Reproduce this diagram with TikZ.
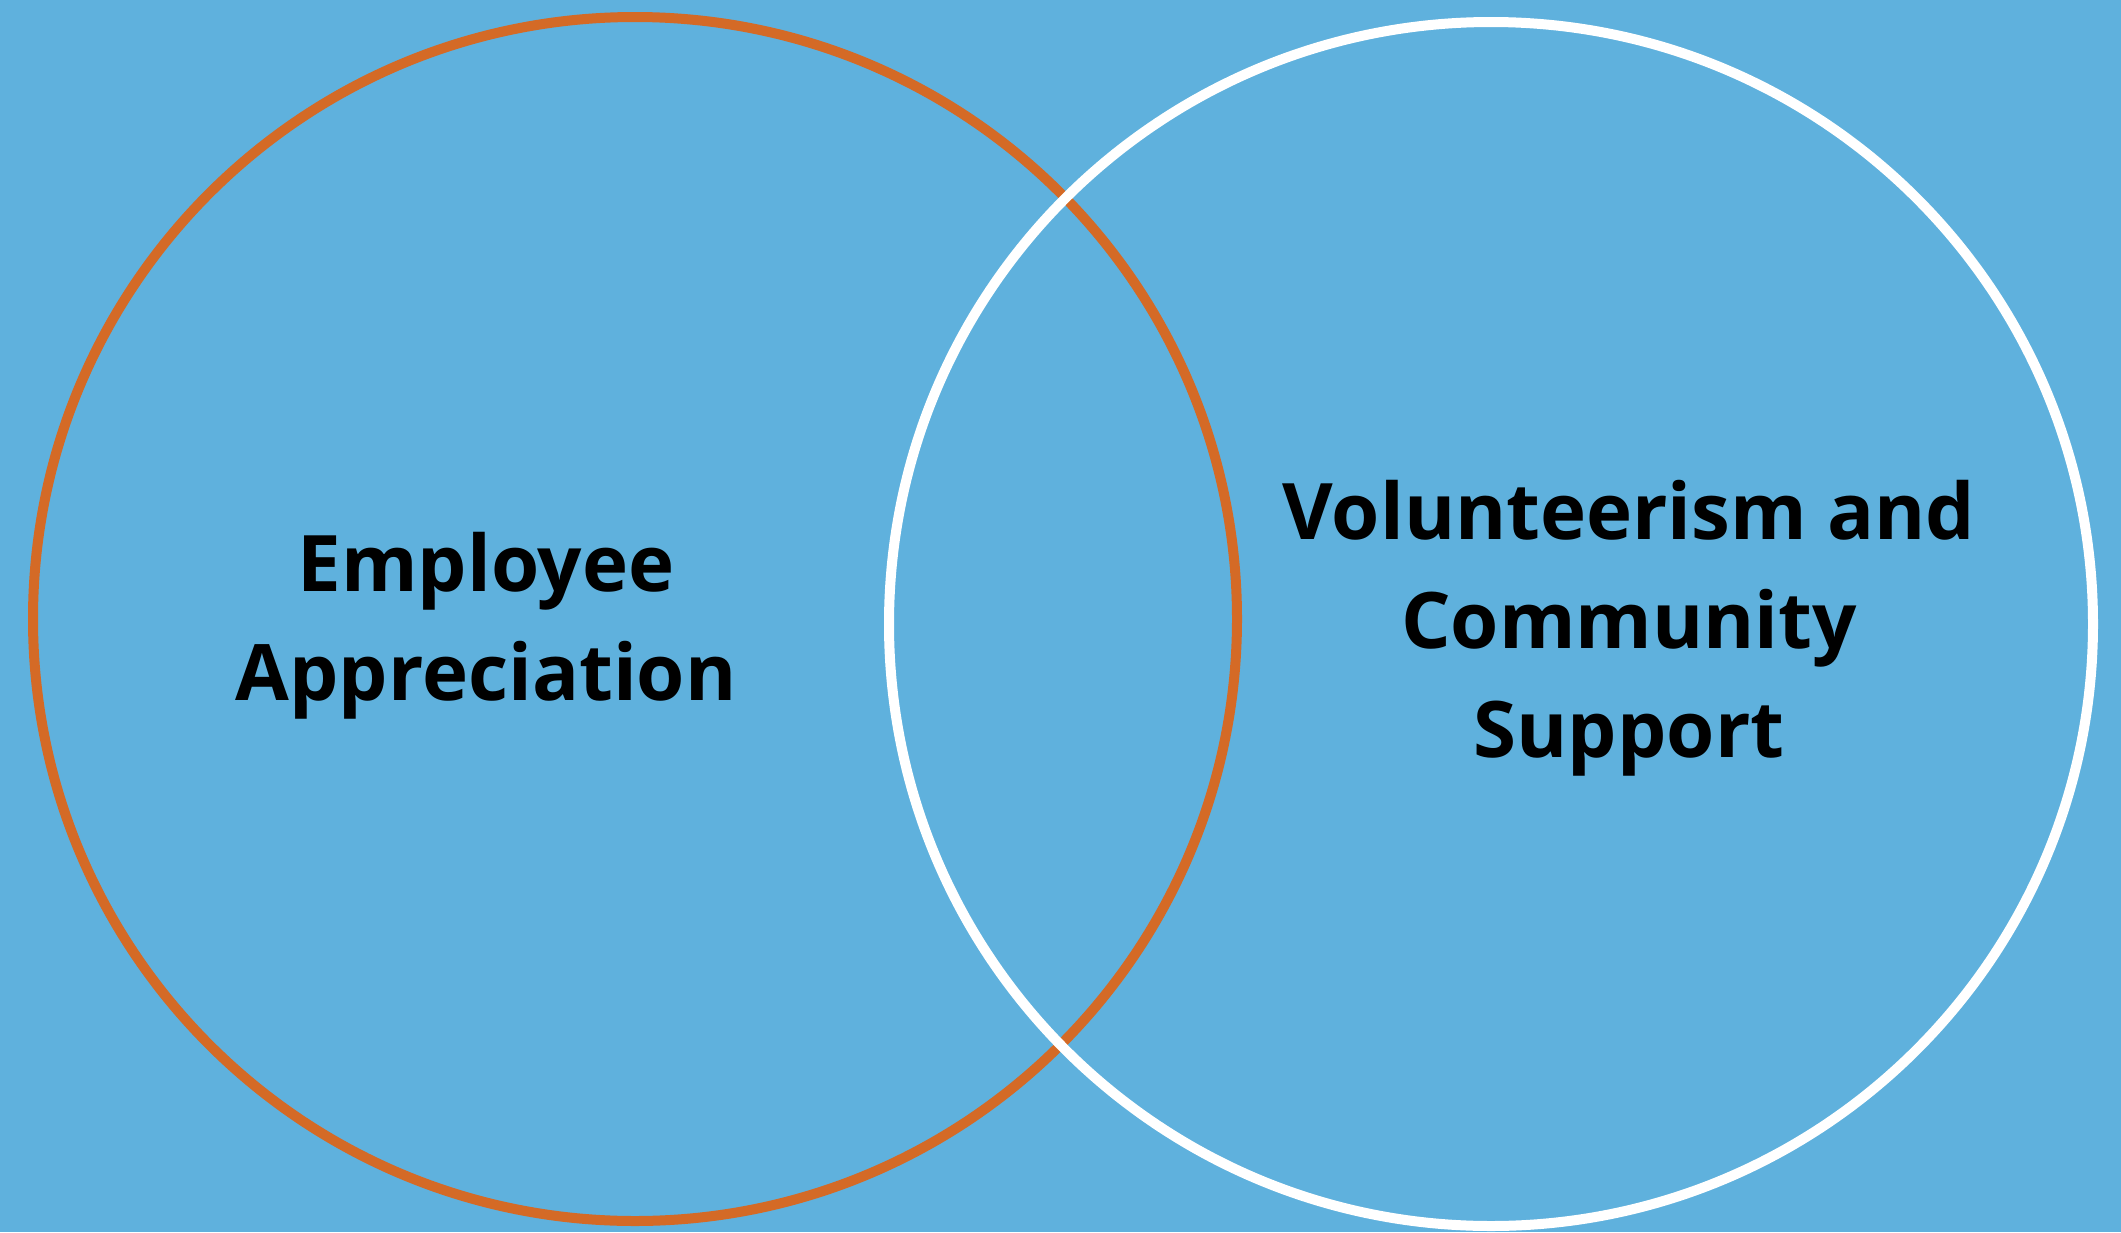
\documentclass[tikz,border=0pt]{standalone}
\usepackage{fontspec}
\setmainfont{Open Sans}
\usepackage{tikz}
\definecolor{skyblue}{RGB}{95,177,221}
\definecolor{rust}{RGB}{212,106,38}

\begin{document}
\begin{tikzpicture}[x=.5pt,y=-.5pt]
          % venn
          \useasboundingbox (0,0) rectangle (2121,1232);
          \fill[skyblue] (0,0) rectangle (2121,1232);
          \draw[rust, line width=5pt] (635,619) circle (602);
          \draw[white, line width=5pt] (1491,624) circle (602);
          \node (appr) at (486,626) [align=center, inner sep=0pt,
            font=\fontsize{39}{54.5}\selectfont\bfseries] {Employee\\Appreciation};
          \node (volun) at (1629,628) [align=center, inner sep=0pt,
            font=\fontsize{39}{54.5}\selectfont\bfseries] {Volunteerism and\\Community\\Support};
        \end{tikzpicture}
\end{document}
